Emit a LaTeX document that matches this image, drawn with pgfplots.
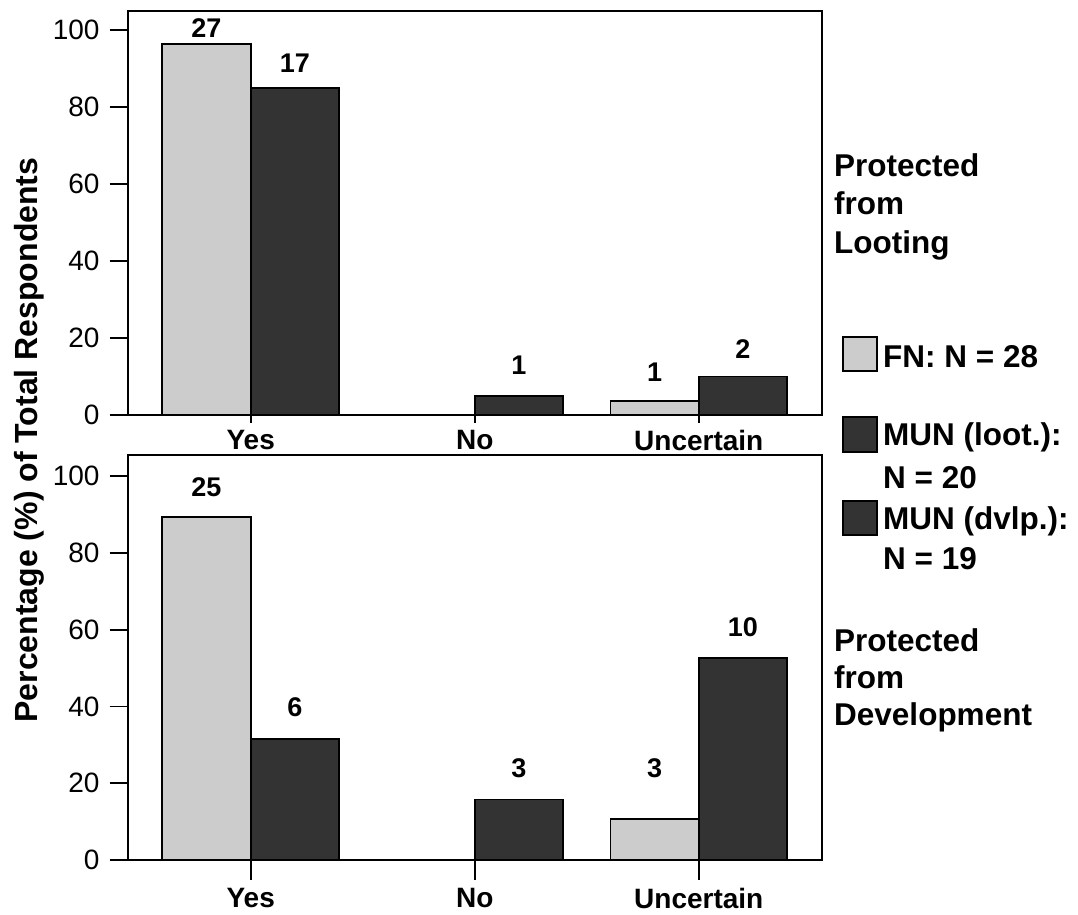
\documentclass[border=0pt]{standalone}
\usepackage{pgfplots}
\pgfplotsset{compat=1.18}
\usepackage{fontspec}
\setmainfont{Liberation Sans}
\definecolor{lightbar}{RGB}{204,204,204}
\definecolor{darkbar}{RGB}{51,51,51}
\newcommand{\fa}{\fontsize{28}{32}\selectfont}
\newcommand{\fxl}{\fontsize{28}{32}\selectfont\bfseries}
\newcommand{\fb}{\fontsize{31.5}{38}\selectfont\bfseries}
\newcommand{\fv}{\fontsize{27}{30}\selectfont\bfseries}
\pgfplotsset{
 panel/.style={
  scale only axis, width=694.3pt,
  xmin=-0.549, xmax=2.55, ymin=0,
  axis line style={line width=1.8pt},
  tick style={line width=1.8pt, black},
  tick align=outside,
  major tick length=18pt,
  xtick={0,1,2}, xticklabels={{\fxl Yes},{\fxl No},{\fxl Uncertain}},
  ytick={0,20,40,60,80,100},
  yticklabels={{\fa 0},{\fa 20},{\fa 40},{\fa 60},{\fa 80},{\fa 100}},
  xtick pos=left, ytick pos=left,
  yticklabel style={font=\fa, inner sep=0pt, anchor=east, xshift=-10pt},
  xticklabel style={font=\fxl, inner sep=0pt, anchor=north},
  ybar, bar width=0.3946,
  every axis plot/.append style={line width=1.6pt},
  every node near coord/.append style={font=\fv, anchor=center, text=black},
  clip=false,
 },
 lightser/.style={fill=lightbar, draw=black, bar shift=-0.1973},
 darkser/.style={fill=darkbar, draw=black, bar shift=0.1973},
 valplot/.style={nodes near coords, point meta=explicit symbolic,
   visualization depends on={\thisrow{dy} \as \dy},
   every node near coord/.append style={yshift=\dy pt}},
}
\begin{document}
\begin{tikzpicture}
\useasboundingbox (0,0) rectangle (1078pt,914pt);
% top panel
\begin{axis}[panel, height=404pt, ymax=105, at={(127.7pt,499pt)}, anchor=south west,
  xtick style={/pgfplots/major tick length=8pt},
  xticklabel style={yshift=3pt}]
\addplot[lightser, valplot] table[x=x, y=y, meta=lab] {
x y lab dy
0 96.43 27 16
2 3.57 1 29
};
\addplot[lightser] coordinates {(1,0)};
\addplot[darkser, valplot] table[x=x, y=y, meta=lab] {
x y lab dy
0 85 17 25
1 5 1 31
2 10 2 27
};
\end{axis}
% bottom panel
\begin{axis}[panel, height=405pt, ymax=105.5, at={(127.7pt,54pt)}, anchor=south west,
  xtick style={/pgfplots/major tick length=20pt},
  xticklabel style={yshift=-10pt}]
\addplot[lightser, valplot] table[x=x, y=y, meta=lab] {
x y lab dy
0 89.29 25 30
2 10.71 3 51
};
\addplot[lightser] coordinates {(1,0)};
\addplot[darkser, valplot] table[x=x, y=y, meta=lab] {
x y lab dy
0 31.58 6 32
1 15.79 3 31
2 52.63 10 31
};
\end{axis}
% legend
\draw[line width=1.6pt, fill=lightbar] (843pt,543pt) rectangle (877pt,577pt);
\draw[line width=1.6pt, fill=darkbar] (843pt,462pt) rectangle (877pt,497pt);
\draw[line width=1.6pt, fill=darkbar] (843pt,379pt) rectangle (877pt,413pt);
\node[font=\fb, anchor=base west, inner sep=0pt] at (883pt,546pt) {FN: N = 28};
\node[font=\fb, anchor=base west, inner sep=0pt] at (883pt,468pt) {MUN (loot.):};
\node[font=\fb, anchor=base west, inner sep=0pt] at (883pt,426pt) {N = 20};
\node[font=\fb, anchor=base west, inner sep=0pt] at (883pt,385pt) {MUN (dvlp.):};
\node[font=\fb, anchor=base west, inner sep=0pt] at (883pt,345pt) {N = 19};
% side titles
\node[font=\fb, anchor=base west, inner sep=0pt] at (834pt,737.3pt) {Protected};
\node[font=\fb, anchor=base west, inner sep=0pt] at (834pt,699pt) {from};
\node[font=\fb, anchor=base west, inner sep=0pt] at (834pt,660.7pt) {Looting};
\node[font=\fb, anchor=base west, inner sep=0pt] at (834pt,262.3pt) {Protected};
\node[font=\fb, anchor=base west, inner sep=0pt] at (834pt,225.3pt) {from};
\node[font=\fb, anchor=base west, inner sep=0pt] at (834pt,188.3pt) {Development};
% y label
\node[font=\fontsize{32}{38}\selectfont\bfseries, rotate=90, anchor=base, inner sep=0pt] at (37pt,474pt) {Percentage (\%) of Total Respondents};
\end{tikzpicture}
\end{document}
